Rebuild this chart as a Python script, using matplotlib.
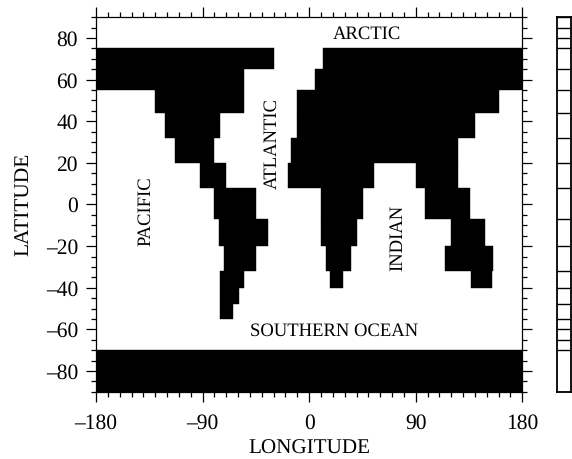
import matplotlib
matplotlib.use('Agg')
import matplotlib.pyplot as plt
from matplotlib.ticker import MultipleLocator

plt.rcParams['font.family'] = ['Liberation Serif', 'DejaVu Serif']
plt.rcParams['text.hinting'] = 'none'

# lat bands of the mask, each with its land spans (lon from, lon to)
band_top = [75, 65, 55, 44, 32, 20, 8, -7, -20, -32, -40, -48, -70]
band_bot = [65, 55, 44, 32, 20, 8, -7, -20, -32, -40, -48, -55, -90]
band_spans = [
    [(-180, -30), (12, 180)],
    [(-180, -55), (5, 180)],
    [(-130, -55), (-10.5, 160)],
    [(-122, -75), (-10.5, 140)],
    [(-113, -80), (-15, 125.5)],
    [(-92.5, -70), (-18, 55), (90, 125.5)],
    [(-80, -45), (10, 45.5), (98, 135.5)],
    [(-76, -34.5), (10, 40.5), (120, 148.5)],
    [(-72, -45), (14.5, 35.5), (114.5, 155.5)],
    [(-75, -55), (17.5, 28.5), (136.5, 154)],
    [(-75, -59.5)],
    [(-75, -64.5)],
    [(-180, 180)],
]

key_edges = [90, 85, 80, 75, 65, 55, 44, 32, 20, 8, -7, -20, -32, -40, -48, -55, -60, -65, -70, -90]

x_ticks = [-180, -90, 0, 90, 180]
x_labels = ['\u2013180', '\u201390', '0', '90', '180']
y_ticks = [80, 60, 40, 20, 0, -20, -40, -60, -80]
y_labels = ['80', '60', '40', '20', '0', '\u201320', '\u201340', '\u201360', '\u201380']

ocean_names = ['ARCTIC', 'ATLANTIC', 'PACIFIC', 'INDIAN', 'SOUTHERN OCEAN']
ocean_lon = [49, -31.5, -138, 74.5, 21]
ocean_lat = [82, 29.4, -3, -15.9, -61]
ocean_rot = [0, 90, 90, 90, 0]

W, H = 572, 459
fig = plt.figure(figsize=(W / 100, H / 100), dpi=100)
ax = fig.add_axes([96 / W, 1 - 391.7 / H, 426.3 / W, 374.4 / H])

for top, bot, spans in zip(band_top, band_bot, band_spans):
    ax.broken_barh([(a, b - a) for a, b in spans], (bot, top - bot),
                   facecolor='black', edgecolor='black', linewidth=0.3)

ax.set_xlim(-180, 180)
ax.set_ylim(-90, 90)
ax.set_xticks(x_ticks)
ax.set_xticklabels(x_labels)
ax.set_yticks(y_ticks)
ax.set_yticklabels(y_labels)
ax.xaxis.set_minor_locator(MultipleLocator(10))
ax.yaxis.set_minor_locator(MultipleLocator(5))
ax.tick_params(which='major', direction='out', length=7.5, width=0.9, top=True, right=True,
               labelsize=15.5)
ax.tick_params(axis='x', which='major', pad=8)
ax.tick_params(axis='y', which='major', pad=5.5)
ax.tick_params(which='minor', direction='out', length=3.6, width=0.9, top=True, right=True)
for s in ax.spines.values():
    s.set_linewidth(0.9)

ax.set_xlabel('LONGITUDE', fontsize=15.2, labelpad=4.5)
ax.set_ylabel('LATITUDE', fontsize=15.4, labelpad=9)

for name, lon, lat, rot in zip(ocean_names, ocean_lon, ocean_lat, ocean_rot):
    ax.text(lon, lat, name, rotation=rot, ha='center', va='center', fontsize=13.4)

# key strip on the right, same lat scale as the map
cax = fig.add_axes([557 / W, 1 - 391.7 / H, 14 / W, 374.4 / H])
cax.set_xlim(0, 1)
cax.set_ylim(-90, 90)
cax.hlines(key_edges, 0, 1, color='black', linewidth=1.0)
cax.set_xticks([])
cax.set_yticks([])
for s in cax.spines.values():
    s.set_linewidth(1.3)

fig.savefig('out.png', dpi=100)
